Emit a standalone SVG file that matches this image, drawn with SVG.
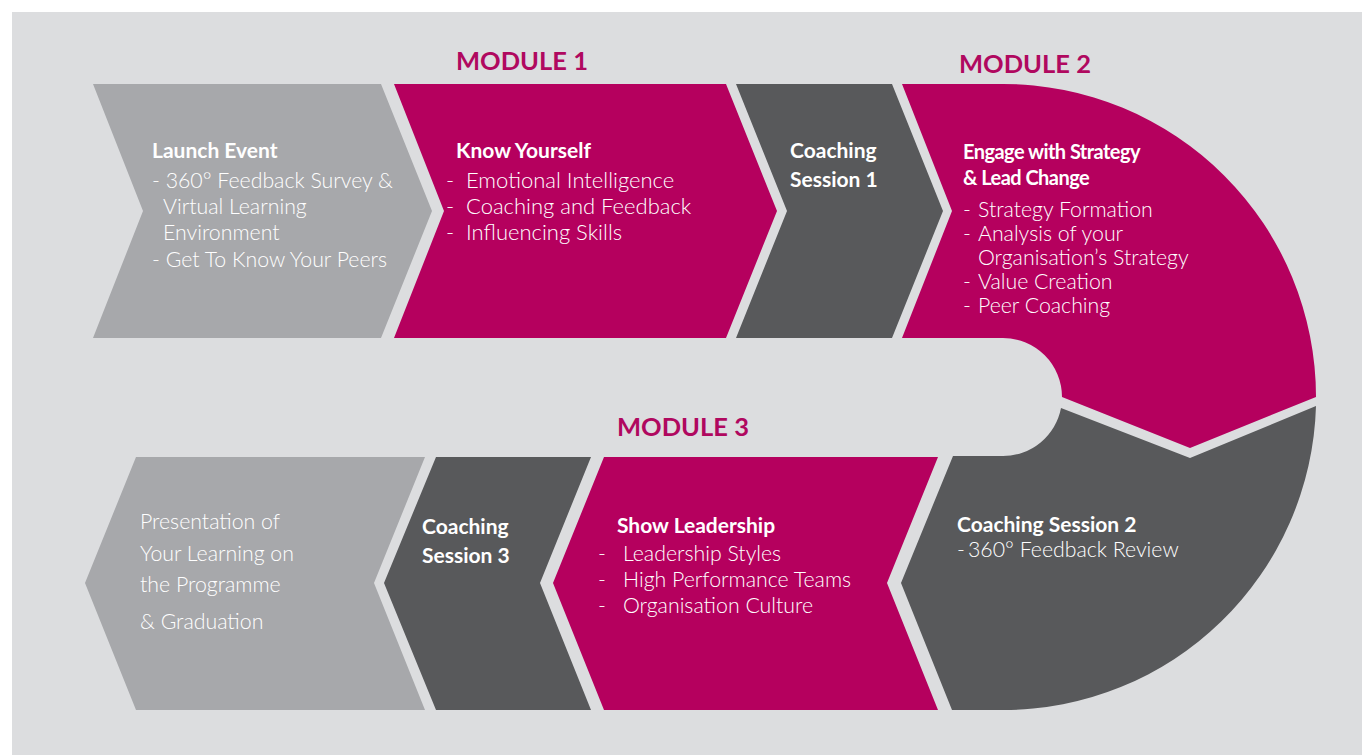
<svg xmlns="http://www.w3.org/2000/svg" width="1362" height="755" viewBox="0 0 1362 755">
<style>
.bg{fill:#DCDDDF}
.lg{fill:#A7A8AB}
.dg{fill:#58595B}
.mg{fill:#B5005E}
text{font-family:Lato,"Noto Sans","Liberation Sans",sans-serif;fill:#FFFFFF}
.h{font-size:21px;font-weight:700}
.hc{font-size:20px;font-weight:700;letter-spacing:-0.55px}
.b{font-size:21.3px;font-weight:300}
.bl{font-size:22px;font-weight:300}
.m{font-size:25.5px;font-weight:700;fill:#B0085F}
</style>
<rect width="1362" height="755" fill="#FFFFFF"/>
<rect class="bg" x="12" y="12" width="1350" height="743"/>
<text class="m" x="456" y="70">MODULE 1</text>
<text class="m" x="959" y="73">MODULE 2</text>
<text class="m" x="617" y="436">MODULE 3</text>
<g id="launch-event">
<polygon class="lg" points="93,84 381,84 432,211 381,338 93,338 143,211"/>
<text class="h" x="152" y="158">Launch Event</text>
<text class="b" x="152" y="188">- 360° Feedback Survey &amp;</text>
<text class="b" x="163" y="214">Virtual Learning</text>
<text class="b" x="163" y="240">Environment</text>
<text class="b" x="152" y="267">- Get To Know Your Peers</text>
</g>
<g id="know-yourself">
<polygon class="mg" points="394,84 726,84 777,211 726,338 394,338 444,211"/>
<text class="h" x="456" y="158">Know Yourself</text>
<text class="bl" x="446" y="188">-</text><text class="bl" x="466" y="188">Emotional Intelligence</text>
<text class="bl" x="446" y="214">-</text><text class="bl" x="466" y="214">Coaching and Feedback</text>
<text class="bl" x="446" y="240">-</text><text class="bl" x="466" y="240">Influencing Skills</text>
</g>
<g id="coaching-session-1">
<polygon class="dg" points="736,84 892,84 943,211 892,338 736,338 787,211"/>
<text class="h" x="790" y="158">Coaching</text>
<text class="h" x="790" y="187">Session 1</text>
</g>
<g id="engage-strategy">
<path class="mg" d="M902,84 L1003,84 A313,313 0 0 1 1316,397 L1190,448 L1062,397 A59,59 0 0 0 1003,338 L902,338 L952,211 Z"/>
<text class="hc" x="963" y="159">Engage with Strategy</text>
<text class="hc" x="963" y="185">&amp; Lead Change</text>
<text class="b" x="963" y="217">-</text><text class="b" x="978" y="217">Strategy Formation</text>
<text class="b" x="963" y="241">-</text><text class="b" x="978" y="241">Analysis of your</text>
<text class="b" x="978" y="265">Organisation’s Strategy</text>
<text class="b" x="963" y="289">-</text><text class="b" x="978" y="289">Value Creation</text>
<text class="b" x="963" y="313">-</text><text class="b" x="978" y="313">Peer Coaching</text>
</g>
<g id="coaching-session-2">
<path class="dg" d="M1061,408 L1190,458 L1316,406 A313,313 0 0 1 1003,710 L952,710 L901,583 L953,456 L1003,456 A59,59 0 0 0 1061,408 Z"/>
<text class="h" x="957" y="532">Coaching Session 2</text>
<text class="b" x="957" y="557">-</text><text class="b" x="968" y="557">360° Feedback Review</text>
</g>
<g id="show-leadership">
<polygon class="mg" points="604,457 938,457 887,583 938,710 604,710 553,583"/>
<text class="h" x="617" y="533">Show Leadership</text>
<text class="b" x="598" y="561">-</text><text class="b" x="623" y="561">Leadership Styles</text>
<text class="b" x="598" y="587">-</text><text class="b" x="623" y="587">High Performance Teams</text>
<text class="b" x="598" y="613">-</text><text class="b" x="623" y="613">Organisation Culture</text>
</g>
<g id="coaching-session-3">
<polygon class="dg" points="436,457 591,457 540,583 591,710 436,710 384,583"/>
<text class="h" x="422" y="534">Coaching</text>
<text class="h" x="422" y="563">Session 3</text>
</g>
<g id="presentation">
<polygon class="lg" points="136,457 425,457 374,583 425,710 136,710 85,583"/>
<text class="b" x="140" y="529">Presentation of</text>
<text class="b" x="140" y="561">Your Learning on</text>
<text class="b" x="140" y="592">the Programme</text>
<text class="b" x="140" y="629">&amp; Graduation</text>
</g>
<g id="connectors"/>
</svg>
